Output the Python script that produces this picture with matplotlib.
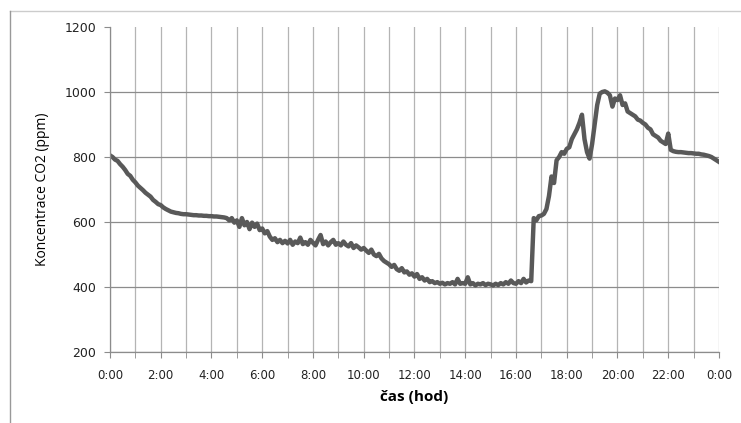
import numpy as np
import matplotlib
matplotlib.use("Agg")
import matplotlib.pyplot as plt
from matplotlib.lines import Line2D

# CO2 concentration (ppm), every 0.1 h (0:00 .. 24:00)
ppm = [
    805, 800, 792, 788, 778, 770, 760, 748, 742, 730,   # 0:00
    722, 712, 705, 698, 690, 684, 678, 668, 662, 655,   # 1:00
    652, 645, 640, 636, 632, 630, 628, 627, 625, 624,   # 2:00
    624, 623, 622, 621, 621, 620, 620, 619, 619, 618,   # 3:00
    618, 617, 617, 616, 615, 614, 612, 605, 612, 598,   # 4:00
    605, 585, 612, 590, 600, 578, 598, 585, 595, 575,   # 5:00
    580, 565, 572, 555, 545, 550, 538, 545, 535, 542,   # 6:00
    534, 545, 530, 540, 535, 552, 532, 538, 530, 545,   # 7:00
    536, 528, 545, 560, 532, 540, 528, 538, 545, 530,   # 8:00
    535, 528, 540, 530, 525, 535, 520, 528, 522, 515,   # 9:00
    520, 512, 505, 515, 500, 495, 502, 488, 480, 475,   # 10:00
    470, 462, 468, 455, 450, 458, 445, 448, 438, 442,   # 11:00
    432, 440, 425, 430, 420, 425, 415, 418, 412, 415,   # 12:00
    410, 413, 408, 412, 410, 415, 408, 425, 410, 412,   # 13:00
    410, 430, 408, 412, 405, 410, 408, 412, 406, 410,   # 14:00
    408, 405, 410, 406, 412, 408, 415, 410, 420, 412,   # 15:00
    410, 418, 412, 425, 414, 420, 418, 612, 605, 618,   # 16:00
    620, 625, 640, 680, 740, 720, 790, 800, 815, 810,   # 17:00
    825, 830, 855, 870, 885, 905, 930, 855, 815, 795,   # 18:00
    840, 900, 960, 995, 1000, 1002, 998, 990, 955, 980, # 19:00
    975, 990, 960, 965, 940, 935, 930, 925, 915, 912,   # 20:00
    905, 900, 890, 885, 870, 865, 860, 850, 845, 840,   # 21:00
    872, 822, 818, 816, 815, 815, 814, 813, 812, 812,   # 22:00
    811, 810, 810, 808, 807, 805, 803, 800, 795, 790,   # 23:00
    785,
]
hours = np.linspace(0, 24, len(ppm))

x_ticks = list(range(0, 25, 2))
x_labels = ["0:00", "2:00", "4:00", "6:00", "8:00", "10:00", "12:00",
            "14:00", "16:00", "18:00", "20:00", "22:00", "0:00"]
y_ticks = [200, 400, 600, 800, 1000, 1200]

fig = plt.figure(figsize=(7.41, 4.23), dpi=100)
ax = fig.add_axes([0.1484, 0.1678, 0.8219, 0.7684])

ax.plot(hours, ppm, color="#595959", lw=3.2, solid_joinstyle="round")

ax.set_xlim(0, 24)
ax.set_ylim(200, 1200)
ax.set_xticks(x_ticks)
ax.set_xticklabels(x_labels)
ax.set_xticks(range(0, 25), minor=True)
ax.set_yticks(y_ticks)

ax.grid(True, which="both", axis="x", color="#b4b4b4", lw=0.9)
ax.grid(True, axis="y", color="#8c8c8c", lw=0.9)
ax.get_ygridlines()[-1].set_visible(False)
ax.set_axisbelow(True)

for s in ["top", "right"]:
    ax.spines[s].set_visible(False)
for s in ["left", "bottom"]:
    ax.spines[s].set_color("#8c8c8c")
    ax.spines[s].set_linewidth(0.9)

ax.tick_params(axis="both", which="both", direction="out", length=4,
               color="#8c8c8c", labelcolor="#222222")
ax.tick_params(axis="x", labelsize=8.5, pad=8)
ax.tick_params(axis="y", labelsize=9, pad=6)

ax.set_ylabel("Koncentrace CO2 (ppm)", fontsize=10, family="Open Sans",
              color="black", labelpad=10)
ax.set_xlabel("čas (hod)", fontsize=11, family="Open Sans",
              fontweight="bold", color="black", labelpad=6)

# outer chart frame (partially visible)
fig.add_artist(Line2D([10 / 741, 1], [1 - 11 / 423, 1 - 11 / 423],
                      transform=fig.transFigure, color="#cccccc", lw=1))
fig.add_artist(Line2D([10 / 741, 10 / 741], [0, 1 - 11 / 423],
                      transform=fig.transFigure, color="#999999", lw=1))

plt.savefig("out.png", dpi=100)
